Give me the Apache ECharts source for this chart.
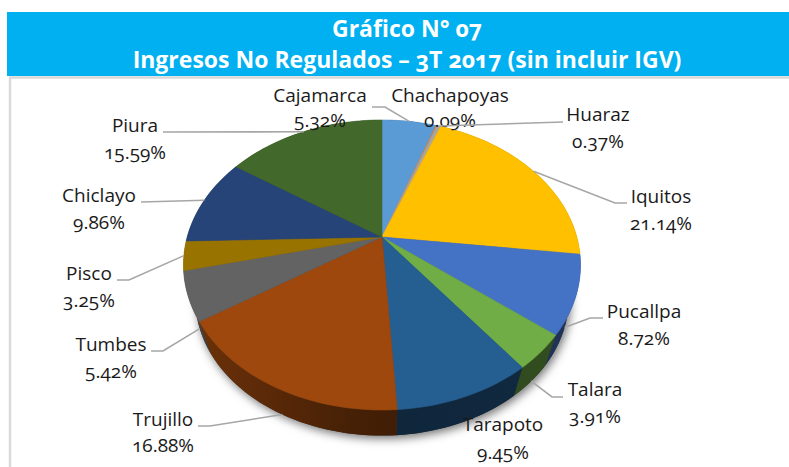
<!DOCTYPE html>
<html><head><meta charset="utf-8">
<style>
html,body{margin:0;padding:0;background:#fff}
#c{width:789px;height:467px;font-feature-settings:"onum" 1;font-variant-numeric:oldstyle-nums}
</style>
<script src="https://cdn.jsdelivr.net/npm/echarts@6/dist/echarts.min.js"></script>
</head><body><div id="c"></div>
<script>
// ---- data ----
const titleLines = ['Gráfico N° 07', 'Ingresos No Regulados – 3T 2017 (sin incluir IGV)'];
const categories = ['Cajamarca','Chachapoyas','Huaraz','Iquitos','Pucallpa','Talara','Tarapoto','Trujillo','Tumbes','Pisco','Chiclayo','Piura'];
const shares = [5.32,0.09,0.37,21.14,8.72,3.91,9.45,16.88,5.42,3.25,9.86,15.59];
const colors = ['#5B9BD5','#ED7D31','#A5A5A5','#FFC000','#4472C4','#70AD47','#255E91','#9E480E','#636363','#997300','#264478','#43682B'];

// ---- layout of labels and leaders (not data) ----
const labelX = [320,450,598,661,644,595,503,163,111,89,99,135];
const nameY  = [95,95,114,196,311,389,424,419,344,273,195,125];
const pctY   = [120,120,141,223,338,416,452,445,371,300,222,152];
const leaderRim = ['t','','t','t','b','b','','b','b','t','t','t'];
const leaderElbows = [
  [[372,107],[385,107]], [], [[563,122]], [[627,203],[615,203]], [[603,318],[590,318]],
  [[563,397],[552,397]], [], [[198,426],[210,426]], [[151,351],[163,351]],
  [[117,280],[129,280]], [[141,202]], [[163,132]]
];
const cx = 382, cy = 237, k = 0.193, A = 139.6, B = 194.8, S = 0.94, D = 36;

function rim(pct, bottom){
  const t = pct / 100 * 2 * Math.PI, u = Math.sin(t), v = -Math.cos(t), d = 1 - k * v;
  const x = B * u / d, y = A * v / d;
  return bottom ? [cx + S * x, cy + S * y + D] : [cx + x, cy + y];
}
function arc(from, to, bottom){
  const n = Math.max(2, Math.ceil((to - from) * 2)), pts = [];
  for (let i = 0; i <= n; i++) pts.push(rim(from + (to - from) * i / n, bottom));
  return pts;
}
const startOf = i => shares.slice(0, i).reduce((a, b) => a + b, 0);
function shade(hex, f){
  const n = parseInt(hex.slice(1), 16);
  return 'rgb(' + [(n>>16)&255,(n>>8)&255,n&255].map(c => Math.round(c*f)).join(',') + ')';
}
const wallFactor = x => { const r = (x - cx) / 200; return r < 0 ? 0.4 - 0.3 * r : 0.4 + 0.05 * r; };

const seriesData = categories.map((n, i) => ({ name: n, value: [shares[i], i] }));
const font = '"Open Sans", Lato, sans-serif';

const chart = echarts.init(document.getElementById('c'), null, { renderer: 'svg' });
chart.setOption({
  animation: false,
  backgroundColor: '#fff',
  title: {
    text: titleLines.join('\n'), left: 402, top: 7, textAlign: 'center',
    textStyle: { color: '#fff', fontFamily: font, fontWeight: 'bold', fontSize: 23, lineHeight: 31 }
  },
  graphic: [
    { type: 'rect', z: -1, silent: true, shape: { x: 7, y: 12, width: 782, height: 64 }, style: { fill: '#00B0F0' } },
    { type: 'polyline', z: -1, silent: true, shape: { points: [[10, 467], [10, 77.5], [789, 77.5]] }, style: { fill: 'none', stroke: '#D9D9D9', lineWidth: 2.5 } }
  ],
  series: [
    {
      type: 'custom', coordinateSystem: 'none', z: 1, silent: true, data: seriesData,
      renderItem(p, api) {
        const i = api.value(1), s = startOf(i), e = s + api.value(0);
        const bot = arc(s, e, true), top = arc(s, e, false);
        const children = [];
        if (i === 0) children.push({
          type: 'polygon', shape: { points: arc(0, 100, true) },
          style: { fill: '#333', shadowBlur: 10, shadowColor: 'rgba(0,0,0,0.55)', shadowOffsetX: 2, shadowOffsetY: 3 }
        });
        const xs = top.concat(bot).map(q => q[0]), x0 = Math.min(...xs), x1 = Math.max(...xs);
        const fill = {
          type: 'linear', global: true, x: x0, y: 0, x2: x1 + 0.01, y2: 0,
          colorStops: [0, .25, .5, .75, 1].map(o => ({ offset: o, color: shade(colors[i], wallFactor(x0 + (x1 - x0) * o)) }))
        };
        children.push({ type: 'polygon', shape: { points: top.concat(bot.reverse()) }, style: { fill } });
        return { type: 'group', children };
      }
    },
    {
      type: 'custom', coordinateSystem: 'none', z: 2, silent: true, data: seriesData,
      renderItem(p, api) {
        const i = api.value(1), s = startOf(i), e = s + api.value(0);
        return { type: 'polygon', shape: { points: [[cx, cy]].concat(arc(s, e, false)) },
          style: { fill: colors[i], stroke: colors[i], lineWidth: 0.6 } };
      }
    },
    {
      type: 'custom', coordinateSystem: 'none', z: 3, silent: true, data: seriesData,
      renderItem(p, api) {
        const i = api.value(1), v = api.value(0), children = [];
        if (leaderRim[i]) {
          const a = rim(startOf(i) + v / 2, leaderRim[i] === 'b');
          children.push({ type: 'polyline', shape: { points: leaderElbows[i].concat([a]) },
            style: { fill: 'none', stroke: '#A6A6A6', lineWidth: 1.6 } });
        }
        const txt = (text, y) => ({ type: 'text', style: { text, x: labelX[i], y, align: 'center', verticalAlign: 'middle',
          fill: '#1a1a1a', fontFamily: font, fontSize: 19 } });
        children.push(txt(categories[i], nameY[i]), txt(v.toFixed(2) + '%', pctY[i]));
        return { type: 'group', children };
      }
    }
  ]
});
</script></body></html>
